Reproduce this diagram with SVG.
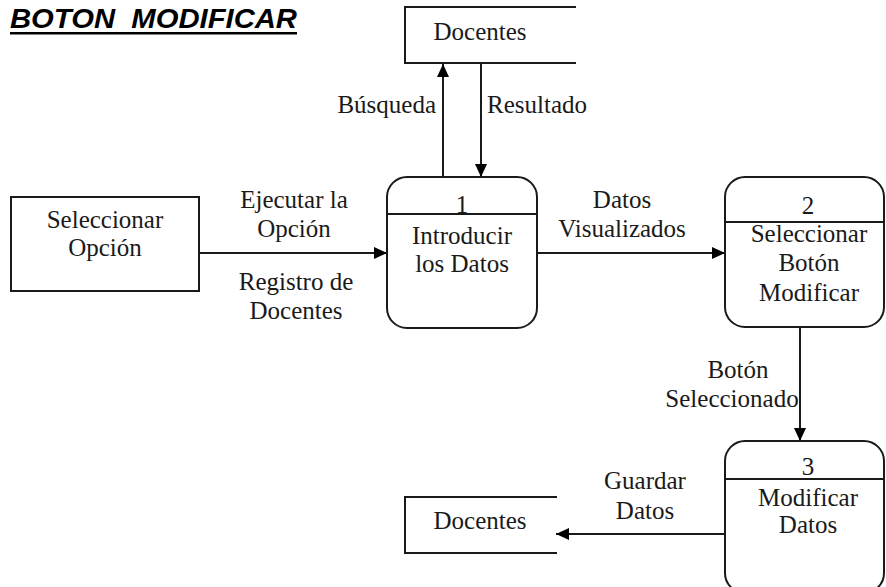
<svg xmlns="http://www.w3.org/2000/svg" width="886" height="587" viewBox="0 0 886 587">
<defs>
<style>
.t{font-family:"Liberation Serif","Times New Roman",serif;font-size:25px;fill:#1a1a1a;text-anchor:middle}
.s{fill:none;stroke:#1a1a1a;stroke-width:2}
.e{fill:none;stroke:#1a1a1a;stroke-width:2}
</style>
<marker id="ah" markerUnits="userSpaceOnUse" markerWidth="14" markerHeight="12" refX="13" refY="6" orient="auto">
<path d="M0,0 L13,6 L0,12 Z" fill="#000"/>
</marker>
</defs>
<rect width="886" height="587" fill="#fff"/>
<g id="title">
<text x="10" y="28" font-family="Liberation Sans, Arial, sans-serif" font-size="28" font-weight="bold" font-style="italic" textLength="287" lengthAdjust="spacingAndGlyphs" fill="#000">BOTON&#160;&#160;MODIFICAR</text>
<rect x="10" y="32" width="287" height="2.5" fill="#000"/>
</g>
<g id="connectors">
<line class="e" x1="199" y1="253" x2="387" y2="253" marker-end="url(#ah)"/>
<line class="e" x1="443" y1="177" x2="443" y2="64" marker-end="url(#ah)"/>
<line class="e" x1="481" y1="64" x2="481" y2="177" marker-end="url(#ah)"/>
<line class="e" x1="537" y1="253" x2="725" y2="253" marker-end="url(#ah)"/>
<line class="e" x1="800" y1="327" x2="800" y2="441" marker-end="url(#ah)"/>
<line class="e" x1="725" y1="534" x2="556" y2="534" marker-end="url(#ah)"/>
<text class="t" x="294" y="208">Ejecutar la</text>
<text class="t" x="294" y="237">Opción</text>
<text class="t" x="296" y="290">Registro de</text>
<text class="t" x="296" y="319">Docentes</text>
<text class="t" x="436" y="113" style="text-anchor:end">Búsqueda</text>
<text class="t" x="487" y="113" style="text-anchor:start">Resultado</text>
<text class="t" x="622" y="208">Datos</text>
<text class="t" x="622" y="237">Visualizados</text>
<text class="t" x="738" y="378">Botón</text>
<text class="t" x="732" y="407">Seleccionado</text>
<text class="t" x="645" y="489">Guardar</text>
<text class="t" x="645" y="519">Datos</text>
</g>
<g id="seleccionar-opcion">
<rect class="s" x="11" y="197" width="188" height="94"/>
<text class="t" x="105" y="228">Seleccionar</text>
<text class="t" x="105" y="256">Opción</text>
</g>
<g id="docentes-top">
<path class="s" d="M576,7 H405 V63 H576"/>
<text class="t" x="480" y="40">Docentes</text>
</g>
<g id="proceso-1">
<rect class="s" x="387" y="177" width="150" height="151" rx="20"/>
<line class="s" x1="387" y1="214" x2="537" y2="214"/>
<text class="t" x="462" y="213">1</text>
<text class="t" x="462" y="244">Introducir</text>
<text class="t" x="462" y="272">los Datos</text>
</g>
<g id="proceso-2">
<rect class="s" x="725" y="177" width="159" height="150" rx="20"/>
<line class="s" x1="725" y1="222" x2="884" y2="222"/>
<text class="t" x="808" y="214">2</text>
<text class="t" x="809" y="242">Seleccionar</text>
<text class="t" x="809" y="271">Botón</text>
<text class="t" x="809" y="301">Modificar</text>
</g>
<g id="proceso-3">
<rect class="s" x="725" y="441" width="159" height="152" rx="20"/>
<line class="s" x1="725" y1="479" x2="884" y2="479"/>
<text class="t" x="808" y="475">3</text>
<text class="t" x="808" y="506">Modificar</text>
<text class="t" x="808" y="533">Datos</text>
</g>
<g id="docentes-bottom">
<path class="s" d="M557,497 H405 V553 H557"/>
<text class="t" x="480" y="529">Docentes</text>
</g>
</svg>
